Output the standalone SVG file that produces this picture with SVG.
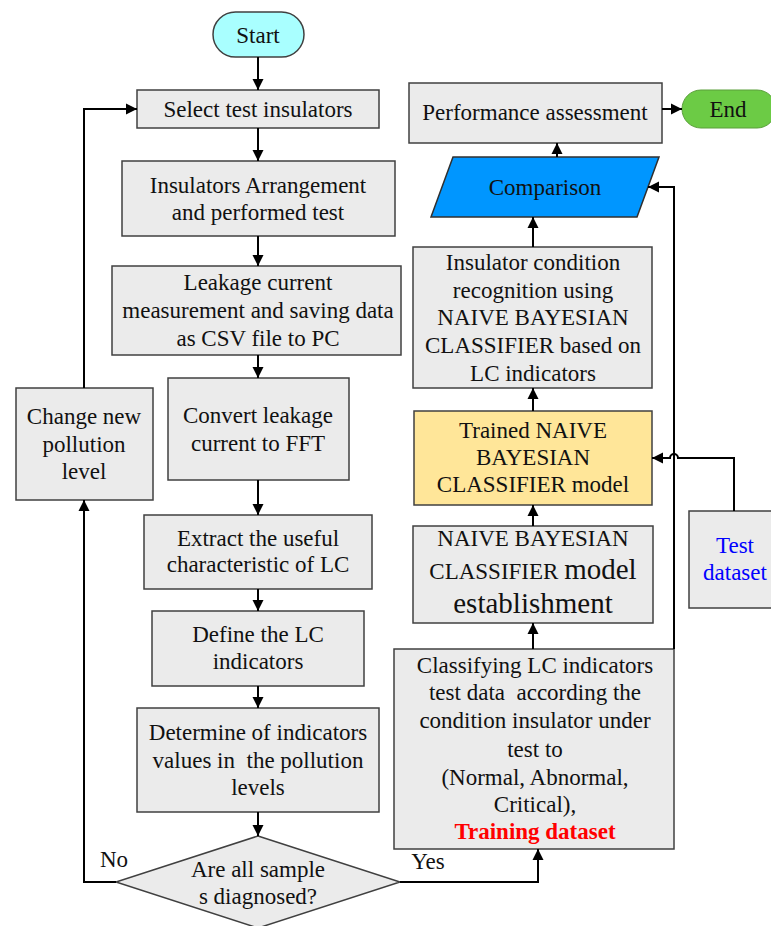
<svg xmlns="http://www.w3.org/2000/svg" width="771" height="926" viewBox="0 0 771 926" font-family="'Liberation Serif', 'DejaVu Serif', serif">
<style>
text{font-family:'Liberation Serif','DejaVu Serif',serif;font-size:23px;fill:#111;text-anchor:middle}
.box{fill:#EBEBEB;stroke:#404040;stroke-width:1.5}
.c{fill:none;stroke:#000;stroke-width:2;marker-end:url(#ah)}
</style>
<defs>
<marker id="ah" markerUnits="userSpaceOnUse" markerWidth="12" markerHeight="12" refX="11" refY="6" orient="auto">
<path d="M0,0.5 L11,6 L0,11.5 z" fill="#000"/>
</marker>
</defs>
<rect width="771" height="926" fill="#fff"/>
<g id="start"><rect x="213" y="12" width="91" height="45" rx="22.5" fill="#A9FFFF" stroke="#404040" stroke-width="1.5"/><text x="258" y="43">Start</text></g>
<g id="select"><rect class="box" x="137" y="90" width="242" height="38"/><text x="258" y="117">Select test insulators</text></g>
<g id="arrange"><rect class="box" x="122" y="161" width="273" height="75"/><text x="258" y="193">Insulators Arrangement</text><text x="258" y="220">and performed test</text></g>
<g id="leakage"><rect class="box" x="112" y="266" width="289" height="89"/><text x="258" y="290">Leakage current</text><text x="258" y="318">measurement and saving data</text><text x="258" y="346">as CSV file to PC</text></g>
<g id="convert"><rect class="box" x="168" y="378" width="181" height="102"/><text x="258" y="423">Convert leakage</text><text x="258" y="451">current to FFT</text></g>
<g id="extract"><rect class="box" x="144" y="515" width="228" height="74"/><text x="258" y="546">Extract the useful</text><text x="258" y="572">characteristic of LC</text></g>
<g id="define"><rect class="box" x="152" y="611" width="212" height="75"/><text x="258" y="642">Define the LC</text><text x="258" y="669">indicators</text></g>
<g id="determine"><rect class="box" x="137" y="708" width="242" height="104"/><text x="258" y="740">Determine of indicators</text><text x="258" y="768" xml:space="preserve">values in  the pollution</text><text x="258" y="795">levels</text></g>
<g id="decision"><path class="box" d="M258,836 L400,882 L258,928 L116,882 z"/><text x="258" y="877">Are all sample</text><text x="258" y="904">s diagnosed?</text></g>
<g id="change"><rect class="box" x="16" y="388" width="137" height="112"/><text x="84" y="424">Change new</text><text x="84" y="452">pollution</text><text x="84" y="479">level</text></g>
<g id="performance"><rect class="box" x="409" y="83" width="253" height="60"/><text x="535" y="120">Performance assessment</text></g>
<g id="end"><rect x="682" y="90" width="94" height="38" rx="19" fill="#6CCB45" stroke="#5a9f3a" stroke-width="1"/><text x="728" y="117">End</text></g>
<g id="comparison"><path d="M453,157 L659,157 L637,217 L431,217 z" fill="#0096FF" stroke="#303030" stroke-width="1.5"/><text x="545" y="195">Comparison</text></g>
<g id="recognition"><rect class="box" x="413" y="247" width="239" height="141"/><text x="533" y="270">Insulator condition</text><text x="533" y="298">recognition using</text><text x="533" y="325">NAIVE BAYESIAN</text><text x="533" y="353">CLASSIFIER based on</text><text x="533" y="381">LC indicators</text></g>
<g id="trained"><rect x="414" y="411" width="238" height="94" fill="#FFE699" stroke="#404040" stroke-width="1.5"/><text x="533" y="438">Trained NAIVE</text><text x="533" y="465">BAYESIAN</text><text x="533" y="492">CLASSIFIER model</text></g>
<g id="establishment"><rect class="box" x="413" y="526" width="240" height="97"/><text x="533" y="546">NAIVE BAYESIAN</text><text x="533" y="579">CLASSIFIER <tspan style="font-size:29px">model</tspan></text><text x="533" y="613" style="font-size:29px">establishment</text></g>
<g id="classifying"><rect class="box" x="394" y="649" width="280" height="200"/><text x="535" y="673">Classifying LC indicators</text><text x="535" y="700" xml:space="preserve">test data  according the</text><text x="535" y="728">condition insulator under</text><text x="535" y="757">test to</text><text x="535" y="785">(Normal, Abnormal,</text><text x="535" y="812">Critical),</text><text x="535" y="839" style="fill:#FF0000;font-weight:bold">Training dataset</text></g>
<g id="testdata"><rect class="box" x="689" y="511" width="100" height="97"/><text x="735" y="553" style="fill:#0000FF">Test</text><text x="735" y="580" style="fill:#0000FF">dataset</text></g>
<g id="connectors">
<path class="c" d="M258,57 V90"/>
<path class="c" d="M258,128 V161"/>
<path class="c" d="M258,236 V266"/>
<path class="c" d="M258,355 V378"/>
<path class="c" d="M258,480 V515"/>
<path class="c" d="M258,589 V611"/>
<path class="c" d="M258,686 V708"/>
<path class="c" d="M258,812 V836"/>
<path class="c" d="M116,882 H84 V500"/>
<path class="c" d="M84,388 V109 H137"/>
<path class="c" d="M400,882 H538 V849"/>
<path class="c" d="M533,649 V623"/>
<path class="c" d="M533,526 V505"/>
<path class="c" d="M533,411 V388"/>
<path class="c" d="M533,247 V217"/>
<path class="c" d="M557,157 V143"/>
<path class="c" d="M662,109 H682"/>
<path class="c" d="M674,649 V187 H648"/>
<path class="c" d="M734,511 V458 H678 A4,4 0 0 0 670,458 H652"/>
<text x="114" y="867">No</text>
<text x="428" y="869">Yes</text>
</g>
</svg>
